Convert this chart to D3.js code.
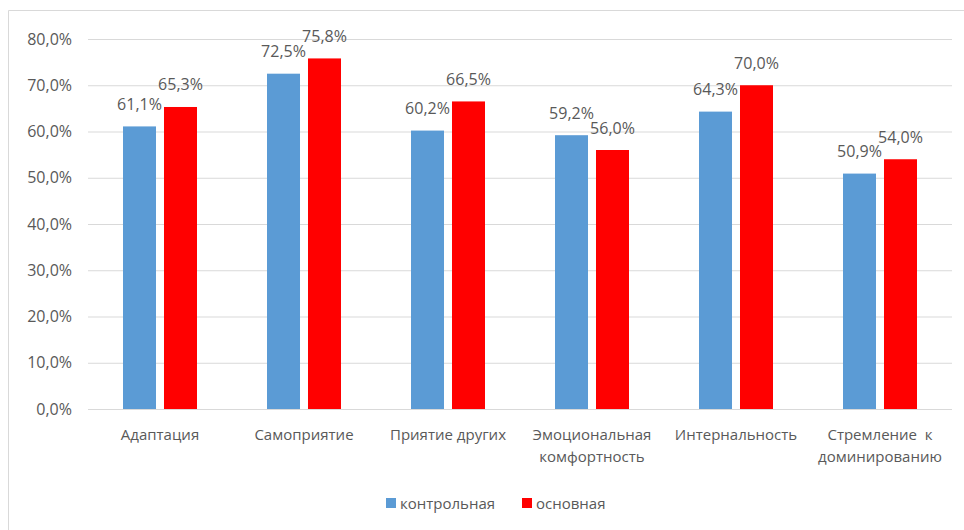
<!DOCTYPE html>
<html lang="ru">
<head>
<meta charset="utf-8">
<script src="https://d3js.org/d3.v7.min.js"></script>
<style>
  body { margin: 0; background: #fff; }
  text { font-family: "Open Sans", "DejaVu Sans", sans-serif; fill: #595959; }
</style>
</head>
<body>
<script>
    // data
    var categories = [
        ["Адаптация"],
        ["Самоприятие"],
        ["Приятие других"],
        ["Эмоциональная", "комфортность"],
        ["Интернальность"],
        ["Стремление  к", "доминированию"]
    ];
    var seriesNames = ["контрольная", "основная"];
    var seriesColours = ["#5b9bd5", "#ff0000"];
    var kontrol = [61.1, 72.5, 60.2, 59.2, 64.3, 50.9];
    var osnov = [65.3, 75.8, 66.5, 56.0, 70.0, 54.0];
    var yTicks = [0, 10, 20, 30, 40, 50, 60, 70, 80];

    var width = 964, height = 530;
    var margin = {top: 39, right: 12, bottom: 121, left: 88};

    var svg = d3.select("body").append("svg")
                .attr("width", width)
                .attr("height", height);

    // chart frame
    svg.append("path")
       .attr("d", "M8.5," + height + "V10.5H" + width)
       .attr("fill", "none")
       .attr("stroke", "#d9d9d9");

    var x0 = d3.scaleBand()
               .domain(d3.range(categories.length))
               .range([margin.left, width - margin.right]);

    var x1 = d3.scaleBand()
               .domain(seriesNames)
               .range([-37, 37])
               .paddingInner(0.195);

    var y = d3.scaleLinear()
              .domain([0, 80])
              .range([height - margin.bottom, margin.top]);

    var fmt = function (v) { return v.toFixed(1).replace(".", ",") + "%"; };

    // gridlines + y labels
    var yAxis = d3.axisLeft(y)
                  .tickValues(yTicks)
                  .tickSize(-(width - margin.left - margin.right))
                  .tickPadding(16)
                  .tickFormat(fmt);

    var gy = svg.append("g")
                .attr("transform", "translate(" + margin.left + ",0)")
                .call(yAxis);
    gy.select(".domain").remove();
    gy.selectAll("line").attr("stroke", "#d9d9d9");
    gy.selectAll("text").attr("font-size", 16).attr("fill", "#595959")
      .style("font-family", "'Open Sans', sans-serif");

    var rows = categories.map(function (c, i) {
        return {i: i, vals: [kontrol[i], osnov[i]]};
    });

    var groups = svg.append("g").selectAll("g")
                    .data(rows)
                    .join("g")
                    .attr("transform", function (d) {
                        return "translate(" + (x0(d.i) + x0.bandwidth() / 2) + ",0)";
                    });

    groups.selectAll("rect")
          .data(function (d) {
              return d.vals.map(function (v, k) { return {k: k, v: v}; });
          })
          .join("rect")
          .attr("x", function (d) { return x1(seriesNames[d.k]); })
          .attr("width", x1.bandwidth())
          .attr("y", function (d) { return y(d.v); })
          .attr("height", function (d) { return y(0) - y(d.v); })
          .attr("fill", function (d) { return seriesColours[d.k]; });

    groups.selectAll("text.val")
          .data(function (d) {
              return d.vals.map(function (v, k) { return {k: k, v: v}; });
          })
          .join("text")
          .attr("class", "val")
          .attr("x", function (d) { return x1(seriesNames[d.k]) + x1.bandwidth() / 2; })
          .attr("y", function (d) { return y(d.v) - 16.5; })
          .attr("text-anchor", "middle")
          .attr("font-size", 16)
          .text(function (d) { return fmt(d.v); });

    // category labels
    var cat = svg.append("g").selectAll("text")
                 .data(categories)
                 .join("text")
                 .attr("text-anchor", "middle")
                 .attr("font-size", 15)
                 .attr("transform", function (d, i) {
                     return "translate(" + (x0(i) + x0.bandwidth() / 2) + ",440)";
                 });
    cat.selectAll("tspan")
       .data(function (d) { return d; })
       .join("tspan")
       .attr("x", 0)
       .attr("dy", function (d, j) { return j ? 21.5 : 0; })
       .style("white-space", "pre")
       .text(function (d) { return d; });

    // legend
    var legend = svg.append("g");
    var legX = [386, 522];
    seriesNames.forEach(function (s, k) {
        legend.append("rect")
              .attr("x", legX[k]).attr("y", 498)
              .attr("width", 10).attr("height", 10)
              .attr("fill", seriesColours[k]);
        legend.append("text")
              .attr("x", legX[k] + 14).attr("y", 509)
              .attr("font-size", 15)
              .text(s);
    });
</script>
</body>
</html>
